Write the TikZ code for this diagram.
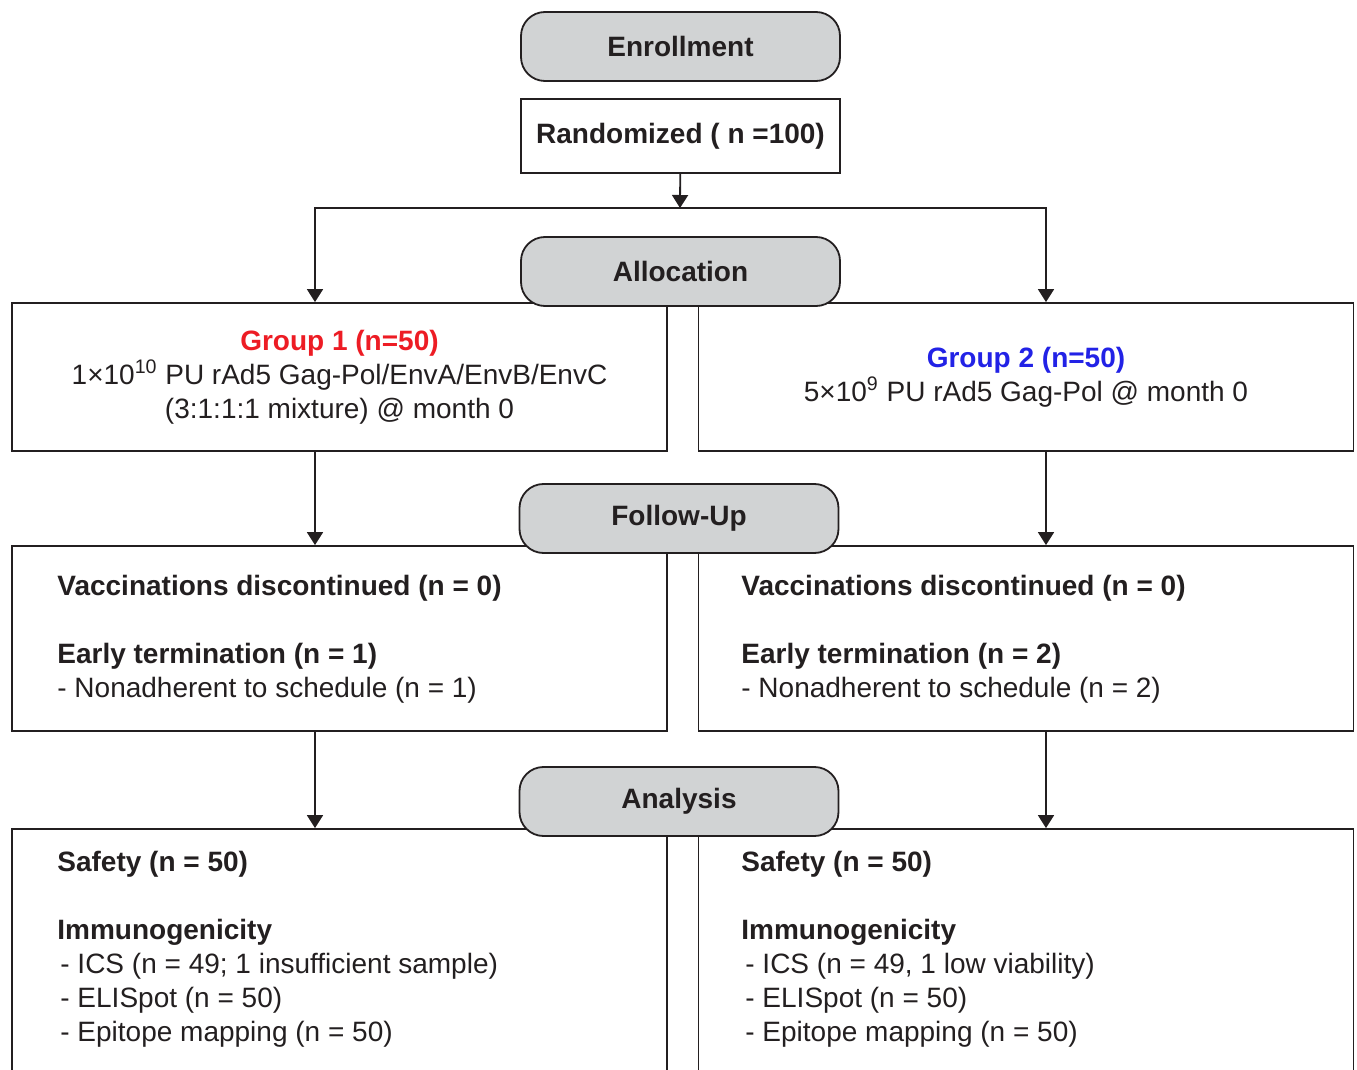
\documentclass[tikz,border=0pt]{standalone}
\usepackage{fontspec}
\setmainfont{Liberation Sans}
\usetikzlibrary{arrows.meta}
\definecolor{ink}{HTML}{231F20}
\definecolor{stagegray}{HTML}{D1D3D4}
\definecolor{grpred}{HTML}{ED1C24}
\definecolor{grpblue}{HTML}{2222E6}

\begin{document}
\begin{tikzpicture}[x=0.5pt, y=-0.5pt,
  every node/.style={font=\fontsize{14}{17}\selectfont, text=ink},
  stage/.style={draw=ink, line width=0.9pt, fill=stagegray, rounded corners=12pt, minimum width=159.5pt, minimum height=34.5pt, font=\fontsize{14}{17}\selectfont\bfseries},
  armbox/.style={draw=ink, line width=0.9pt, minimum width=327.5pt, inner sep=0pt, align=center},
  txt/.style={anchor=north west, inner sep=0pt, align=left},
  arr/.style={-{Triangle[length=6.5pt,width=8pt]}, draw=ink, line width=0.9pt}]
  \useasboundingbox (0,0) rectangle (1357,1070);
  \clip (0,0) rectangle (1357,1070);
  \coordinate (lcol) at (315,0);
  \coordinate (rcol) at (1046,0);
  \coordinate (split) at (680,208);
  % boxes
  \node[draw=ink, line width=0.9pt, minimum width=159.5pt, minimum height=37pt, font=\fontsize{14}{17}\selectfont\bfseries] (rand) at (680.5,136) {Randomized ( n =100)};
  \node[armbox, minimum height=74pt] (g1) at (339.5,377) {\textcolor{grpred}{\textbf{Group 1 (n=50)}}\\1×10\textsuperscript{10} PU rAd5 Gag-Pol/EnvA/EnvB/EnvC\\(3:1:1:1 mixture) @ month 0};
  \node[armbox, minimum height=74pt] (g2) at (1026,377) {\textcolor{grpblue}{\textbf{Group 2 (n=50)}}\\5×10\textsuperscript{9} PU rAd5 Gag-Pol @ month 0};
  \node[armbox, minimum height=92.5pt] (fu1) at (339.5,638.5) {};
  \node[armbox, minimum height=92.5pt] (fu2) at (1026,638.5) {};
  \node[armbox, minimum height=135.5pt] (an1) at (339.5,964.5) {};
  \node[armbox, minimum height=135.5pt] (an2) at (1026,964.5) {};
  % box texts
  \node[txt] (fu1txt) at (57,575) {\textbf{Vaccinations discontinued (n = 0)}\\[17pt]\textbf{Early termination (n = 1)}\\- Nonadherent to schedule (n = 1)};
  \node[txt] (fu2txt) at (741,575) {\textbf{Vaccinations discontinued (n = 0)}\\[17pt]\textbf{Early termination (n = 2)}\\- Nonadherent to schedule (n = 2)};
  \node[txt] (an1txt) at (57,851) {\textbf{Safety (n = 50)}\\[17pt]\textbf{Immunogenicity}\\\hspace*{1.5pt}- ICS (n = 49; 1 insufficient sample)\\\hspace*{1.5pt}- ELISpot (n = 50)\\\hspace*{1.5pt}- Epitope mapping (n = 50)};
  \node[txt] (an2txt) at (741,851) {\textbf{Safety (n = 50)}\\[17pt]\textbf{Immunogenicity}\\\hspace*{2pt}- ICS (n = 49, 1 low viability)\\\hspace*{2pt}- ELISpot (n = 50)\\\hspace*{2pt}- Epitope mapping (n = 50)};
  % connectors
  \draw[arr] (rand) -- (split);
  \draw[arr] (split) -| (lcol |- g1.north);
  \draw[arr] (split) -| (rcol |- g2.north);
  \draw[arr] (lcol |- g1.south) -- (lcol |- fu1.north);
  \draw[arr] (rcol |- g2.south) -- (rcol |- fu2.north);
  \draw[arr] (lcol |- fu1.south) -- (lcol |- an1.north);
  \draw[arr] (rcol |- fu2.south) -- (rcol |- an2.north);
  % stages on top
  \node[stage] (enroll) at (680.5,46.5) {Enrollment};
  \node[stage] (alloc) at (680.5,271.5) {Allocation};
  \node[stage] (follow) at (679,518.5) {Follow-Up};
  \node[stage] (analysis) at (679,801.5) {Analysis};
\end{tikzpicture}
\end{document}
